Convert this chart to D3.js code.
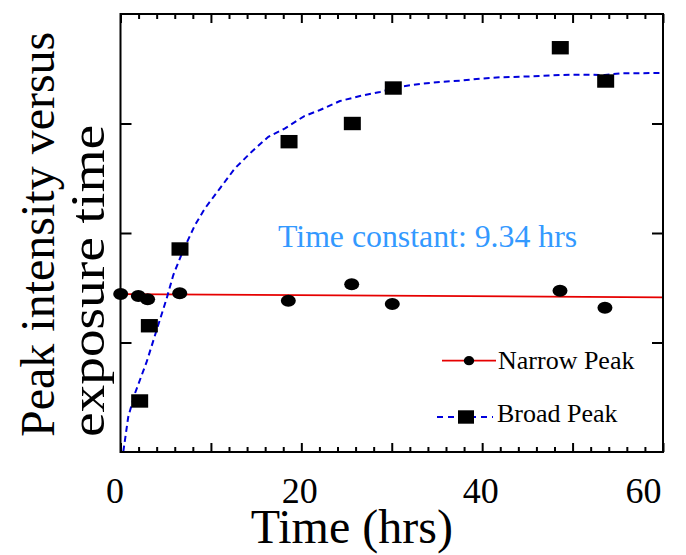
<!DOCTYPE html>
<html>
<head>
<meta charset="utf-8">
<script src="https://cdn.jsdelivr.net/npm/d3@7/dist/d3.min.js"></script>
<style>
  html, body { margin: 0; padding: 0; background: #fff; }
  svg { display: block; }
  text { font-family: "Liberation Serif", "Times New Roman", serif; }
</style>
</head>
<body>
<svg id="chart" width="686" height="555"></svg>
<script>
// ---- data ----
const narrowTime = [0.02, 1.97, 3.0, 6.55, 18.56, 25.57, 30.06, 48.61, 53.58];
const narrowValue = [1.443, 1.425, 1.395, 1.449, 1.382, 1.531, 1.352, 1.473, 1.318];

const broadTime = [2.12, 3.19, 6.58, 18.64, 25.64, 30.17, 48.64, 53.66];
const broadValue = [0.466, 1.153, 1.854, 2.834, 3.0, 3.324, 3.692, 3.388];

// linear fit of narrow peak (end points)
const narrowFitTime = [0, 60];
const narrowFitValue = [1.442, 1.413];

// exponential fit of broad peak
const broadFitTime = [0.31, 0.86, 1.60, 2.90, 4.00, 5.11, 5.84, 6.95, 8.24, 9.35, 11.0, 12.66, 14.51, 16.35, 18.2, 20.33, 22.06, 24.27, 26.48, 28.70, 30.91, 33.12, 35.34, 37.54, 39.76, 41.97, 44.18, 46.39, 48.6, 50.82, 53.58, 55.24, 59.67, 60];
const broadFitValue = [0.003, 0.322, 0.536, 0.825, 1.114, 1.404, 1.616, 1.845, 2.073, 2.226, 2.408, 2.591, 2.742, 2.879, 2.956, 3.068, 3.123, 3.205, 3.251, 3.288, 3.336, 3.361, 3.379, 3.391, 3.409, 3.422, 3.427, 3.434, 3.443, 3.446, 3.443, 3.458, 3.461, 3.461];

const xMajorTicks = [0, 10, 20, 30, 40, 50, 60];
const xMinorTicks = d3.range(0, 61, 2).filter(v => v % 10 !== 0);
const xTickLabels = [0, 20, 40, 60];
const yTicks = [1, 2, 3];

const annotation = "Time constant: 9.34 hrs";
const xTitle = "Time (hrs)";
const yTitleLines = ["Peak intensity versus", "exposure time"];
const legendLabels = ["Narrow Peak", "Broad Peak"];

// ---- layout ----
const L = 120.5, R = 663, T = 14, B = 452;
const x = d3.scaleLinear().domain([0, 60]).range([L, R]);
const y = d3.scaleLinear().domain([0, 4]).range([B, T]);

const svg = d3.select("#chart");
const RED = "#e60000", BLUE = "#0000dd";
const SERIF = '"Liberation Serif", "Times New Roman", serif';

// fit lines
const line = d3.line().x(d => x(d[0])).y(d => y(d[1]));
svg.append("path")
  .attr("d", line(d3.zip(narrowFitTime, narrowFitValue)))
  .attr("fill", "none").attr("stroke", RED).attr("stroke-width", 1.8);
svg.append("path")
  .attr("d", line(d3.zip(broadFitTime, broadFitValue)))
  .attr("fill", "none").attr("stroke", BLUE).attr("stroke-width", 2)
  .attr("stroke-dasharray", "6,4");

// axes
function styleAxis(g) {
  g.select(".domain").remove();
  g.selectAll("line").attr("stroke", "#000").attr("stroke-width", 2);
}
svg.append("g").attr("transform", `translate(0,${B})`)
  .call(d3.axisBottom(x).tickValues(xMajorTicks).tickSize(-9).tickFormat(""))
  .call(styleAxis);
svg.append("g").attr("transform", `translate(0,${B})`)
  .call(d3.axisBottom(x).tickValues(xMinorTicks).tickSize(-5).tickFormat(""))
  .call(styleAxis);
svg.append("g").attr("transform", `translate(0,${T})`)
  .call(d3.axisTop(x).tickValues(xMajorTicks).tickSize(-9).tickFormat(""))
  .call(styleAxis);
svg.append("g").attr("transform", `translate(0,${T})`)
  .call(d3.axisTop(x).tickValues(xMinorTicks).tickSize(-5).tickFormat(""))
  .call(styleAxis);
svg.append("g").attr("transform", `translate(${L},0)`)
  .call(d3.axisLeft(y).tickValues(yTicks).tickSize(-11).tickFormat(""))
  .call(styleAxis);
svg.append("g").attr("transform", `translate(${R},0)`)
  .call(d3.axisRight(y).tickValues(yTicks).tickSize(-11).tickFormat(""))
  .call(styleAxis);

// tick labels
const lab = svg.append("g").attr("transform", `translate(0,${B})`)
  .call(d3.axisBottom(x).tickValues(xTickLabels).tickSize(0).tickFormat(d3.format("d")));
lab.attr("font-family", SERIF);
lab.select(".domain").remove();
lab.selectAll("text")
  .attr("y", 51).attr("dy", 0)
  .attr("font-size", 36).attr("fill", "#000")
  .attr("dx", (d, i) => i === 0 ? -6 : -2)
  .attr("text-anchor", (d, i, n) => i === n.length - 1 ? "end" : "middle")
  .style("font-family", SERIF);

// frame
svg.append("rect").attr("x", L).attr("y", T).attr("width", R - L).attr("height", B - T)
  .attr("fill", "none").attr("stroke", "#000").attr("stroke-width", 2);

// markers
svg.append("g").selectAll("ellipse").data(d3.zip(narrowTime, narrowValue)).join("ellipse")
  .attr("cx", d => x(d[0])).attr("cy", d => y(d[1]))
  .attr("rx", 7.5).attr("ry", 6).attr("fill", "#000");
svg.append("g").selectAll("rect").data(d3.zip(broadTime, broadValue)).join("rect")
  .attr("x", d => x(d[0]) - 8.5).attr("y", d => y(d[1]) - 6.7)
  .attr("width", 17).attr("height", 13.4).attr("fill", "#000");

// annotation
svg.append("text").attr("x", 278).attr("y", 247)
  .attr("font-size", 31.8).attr("fill", "#3399ff").text(annotation);

// axis titles
svg.append("text").attr("x", (L + R) / 2 - 40).attr("y", 543)
  .attr("text-anchor", "middle").attr("font-size", 48).text(xTitle);
const yt = svg.append("g").attr("transform", "translate(0,437) rotate(-90)");
yt.append("text").attr("x", 0).attr("y", 54).attr("font-size", 48).text(yTitleLines[0]);
yt.append("text").attr("x", 0).attr("y", 104).attr("font-size", 48)
  .attr("textLength", 312).attr("lengthAdjust", "spacingAndGlyphs").text(yTitleLines[1]);

// legend
const lg = svg.append("g");
lg.append("line").attr("x1", 442).attr("x2", 496).attr("y1", 360.7).attr("y2", 360.7)
  .attr("stroke", RED).attr("stroke-width", 1.8);
lg.append("ellipse").attr("cx", 469).attr("cy", 360.7).attr("rx", 5.2).attr("ry", 4.6).attr("fill", "#000");
lg.append("text").attr("x", 498).attr("y", 368.5).attr("font-size", 26).text(legendLabels[0]);
lg.append("line").attr("x1", 437).attr("x2", 493).attr("y1", 417).attr("y2", 417)
  .attr("stroke", BLUE).attr("stroke-width", 2).attr("stroke-dasharray", "6,5");
lg.append("rect").attr("x", 466 - 8).attr("y", 417 - 6.7).attr("width", 16).attr("height", 13.4).attr("fill", "#000");
lg.append("text").attr("x", 497).attr("y", 422).attr("font-size", 26).text(legendLabels[1]);
</script>
</body>
</html>
